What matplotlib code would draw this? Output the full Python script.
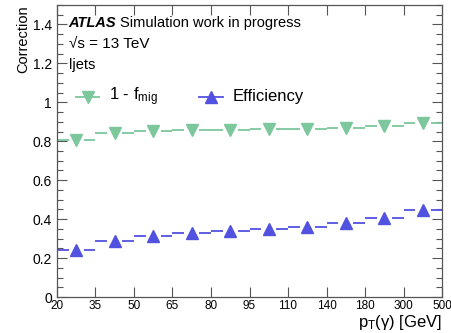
import numpy as np
import matplotlib
matplotlib.use("Agg")
import matplotlib.pyplot as plt
from matplotlib.ticker import MultipleLocator

plt.rcParams['font.family'] = ['Liberation Sans', 'DejaVu Sans']
plt.rcParams['mathtext.fontset'] = 'custom'
plt.rcParams['mathtext.rm'] = 'Liberation Sans'
plt.rcParams['mathtext.it'] = 'Liberation Sans'

# bin edges in pT(gamma) [GeV], drawn with equal width per bin
edges = [20, 35, 50, 65, 80, 95, 110, 140, 180, 300, 500]
one_minus_fmig = [0.808, 0.840, 0.851, 0.856, 0.860, 0.863, 0.865, 0.867, 0.880, 0.893]
efficiency = [0.241, 0.289, 0.316, 0.330, 0.338, 0.349, 0.362, 0.381, 0.407, 0.446]

green = '#7cc79c'
blue = '#5252e0'

fig = plt.figure(figsize=(4.52, 3.33), dpi=100)
ax = fig.add_axes([0.126, 0.108, 0.852, 0.877])

nb = len(edges) - 1
lo = np.arange(nb)
hi = lo + 1
ctr = lo + 0.5
gap = 0.2

for vals, col, mk in [(one_minus_fmig, green, 'v'), (efficiency, blue, '^')]:
    ax.hlines(vals, lo, ctr - gap, color=col, lw=1.3)
    ax.hlines(vals, ctr + gap, hi, color=col, lw=1.3)
    ax.plot(ctr, vals, ls='none', marker=mk, ms=8.5, color=col, mec=col)

ax.set_xlim(0, nb)
ax.set_ylim(0, 1.5)
ax.set_xticks(np.arange(nb + 1))
ax.set_xticklabels([str(e) for e in edges], fontsize=8.5)
ax.yaxis.set_minor_locator(MultipleLocator(0.05))
ax.set_yticks([0, 0.2, 0.4, 0.6, 0.8, 1.0, 1.2, 1.4])
ax.set_yticklabels(['0', '0.2', '0.4', '0.6', '0.8', '1', '1.2', '1.4'], fontsize=10)
ax.tick_params(which='both', direction='in', top=True, right=True, color='#555555')
ax.tick_params(which='major', length=7, width=0.8)
ax.tick_params(which='minor', length=4, width=0.8)
ax.tick_params(axis='x', which='major', pad=2)
for s in ax.spines.values():
    s.set_color('#555555')
    s.set_linewidth(0.9)

ax.set_ylabel('Correction', fontsize=10.5, loc='top', labelpad=2)
ax.set_xlabel(r'p$_{\mathregular{T}}$($\gamma$) [GeV]', fontsize=12, loc='right', labelpad=1)

ax.text(0.03, 0.94, 'ATLAS', transform=ax.transAxes, fontsize=10.5,
        fontweight='bold', style='italic', va='center')
ax.text(0.163, 0.94, 'Simulation work in progress', transform=ax.transAxes,
        fontsize=10.5, va='center')
ax.text(0.03, 0.865, '√s = 13 TeV', transform=ax.transAxes,
        fontsize=11, va='center')
ax.text(0.03, 0.795, 'ljets', transform=ax.transAxes, fontsize=10.5, va='center')

# legend
ly = 0.685
for x0, col, mk, lab in [(0.08, green, 'v', r'1 - f$_{\mathregular{mig}}$'),
                         (0.40, blue, '^', 'Efficiency')]:
    ax.plot([x0 - 0.03, x0 + 0.03], [ly, ly], color=col, lw=1.3, transform=ax.transAxes)
    ax.plot([x0], [ly], marker=mk, ms=8.5, color=col, transform=ax.transAxes)
    ax.text(x0 + 0.055, ly, lab, transform=ax.transAxes, fontsize=12, va='center')

fig.savefig('out.png', dpi=100)
